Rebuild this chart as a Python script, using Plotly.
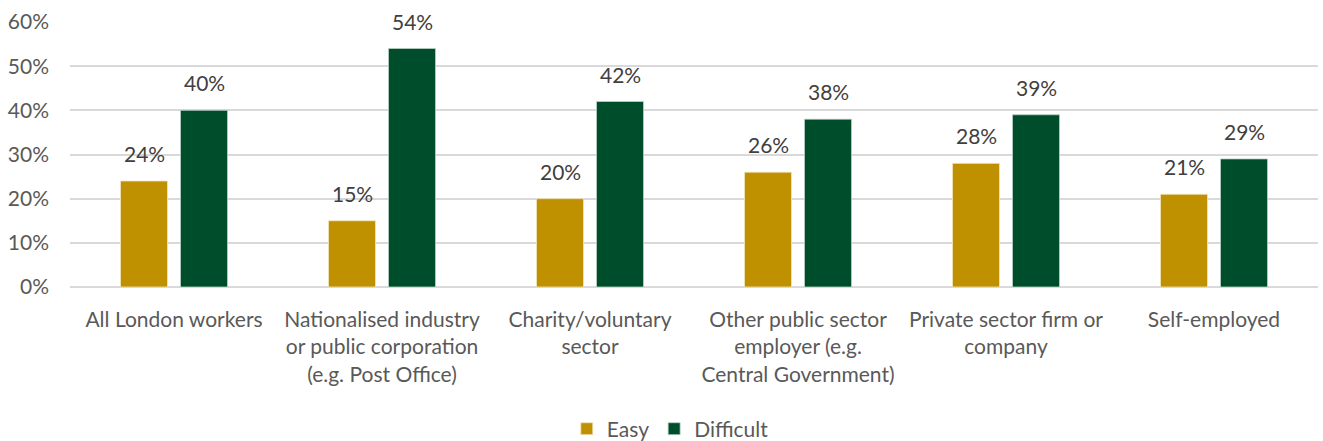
import plotly.graph_objects as go

categories = [
    "All London workers",
    "Nationalised industry<br>or public corporation<br>(e.g. Post Office)",
    "Charity/voluntary<br>sector",
    "Other public sector<br>employer (e.g.<br>Central Government)",
    "Private sector firm or<br>company",
    "Self-employed",
]
easy = [24, 15, 20, 26, 28, 21]
difficult = [40, 54, 42, 38, 39, 29]
tick_vals = [0, 10, 20, 30, 40, 50, 60]
tick_text = ["0%", "10%", "20%", "30%", "40%", "50%", "60%"]

FONT = "Lato, 'Open Sans', sans-serif"
FS = 21

fig = go.Figure()
fig.add_trace(go.Bar(
    name="Easy", x=categories, y=easy,
    marker=dict(color="#BF9000", line=dict(color="#F2E6C0", width=0.8)),
))
fig.add_trace(go.Bar(
    name="Difficult", x=categories, y=difficult,
    marker=dict(color="#004D2C", line=dict(color="#B8D0C4", width=0.8)),
))

# value labels above each bar, offset to sit over its bar in the group
for vals, shift in ((easy, -30), (difficult, 30)):
    for cat, v in zip(categories, vals):
        fig.add_annotation(
            x=cat, y=v, xref="x", yref="y", text=f"{v}%",
            showarrow=False, xshift=shift, yshift=13, yanchor="bottom",
            font=dict(family=FONT, size=FS, color="#404040"),
        )

fig.update_layout(
    width=1323, height=441,
    margin=dict(l=70, r=5, t=22, b=154, autoexpand=False),
    paper_bgcolor="white", plot_bgcolor="white",
    barmode="group", bargap=0.423, bargroupgap=0.217,
    font=dict(family=FONT, size=FS, color="#595959"),
    showlegend=True,
    legend=dict(orientation="h", x=0.481, xanchor="center", y=-0.536, yanchor="middle",
                font=dict(size=FS, color="#595959"), itemwidth=30, traceorder="normal"),
    xaxis=dict(showline=False, ticks="", tickfont=dict(size=FS, color="#595959"),
               ticklabelstandoff=18, automargin=False),
    yaxis=dict(range=[0, 60], tickvals=tick_vals, ticktext=tick_text,
               showgrid=True, gridcolor="#D9D9D9", gridwidth=1.5,
               zeroline=True, zerolinecolor="#D9D9D9", zerolinewidth=1.5,
               tickfont=dict(size=FS, color="#595959"), ticklabelstandoff=20,
               automargin=False),
)

fig.write_html("out.html")
